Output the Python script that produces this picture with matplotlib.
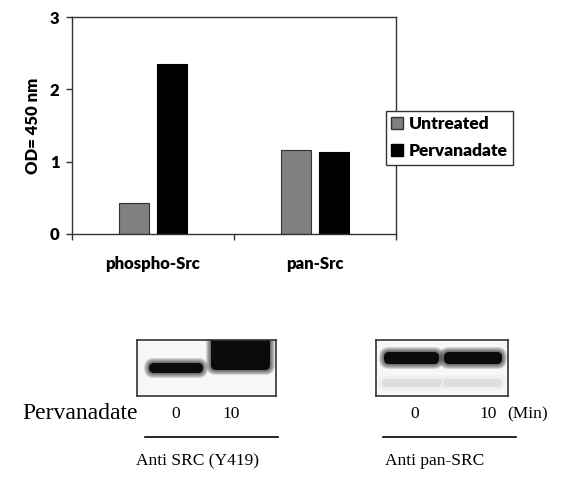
import matplotlib
matplotlib.use("Agg")
import matplotlib.pyplot as plt
import numpy as np
from matplotlib.patches import FancyBboxPatch, Patch

W, H = 568, 490

categories = ["phospho-Src", "pan-Src"]
untreated = [0.43, 1.16]
pervanadate = [2.35, 1.13]
y_ticks = [0, 1, 2, 3]

# blot bands: (x0, x1, y0, y1, darkness) in blot pixel units
blot_left = [(11, 67, 22, 34, 1.0), (73, 134, -6, 31, 1.0)]
blot_right = [(7, 64, 11, 25, 1.0), (67, 127, 11, 25, 1.0),
              (5, 66, 38, 48, 0.07), (67, 127, 38, 48, 0.06)]
lanes = ["0", "10"]


def fx(px):
    return px / W


def fy(py):
    return 1 - py / H


fig = plt.figure(figsize=(W / 100, H / 100), dpi=100)

sans = "Lato"
ax = fig.add_axes([fx(72), fy(234), fx(324), 217 / H])
x = np.arange(len(categories))
bw = 0.185
ax.bar(x - 0.12, untreated, bw, color="#808080", edgecolor="#333333", linewidth=0.8, label="Untreated")
ax.bar(x + 0.12, pervanadate, bw, color="black", edgecolor="black", linewidth=0.8, label="Pervanadate")
ax.set_xlim(-0.5, 1.5)
ax.set_ylim(0, 3)
ax.set_yticks(y_ticks)
ax.set_yticklabels([str(t) for t in y_ticks], fontfamily=sans, fontweight="heavy", fontsize=12)
ax.set_xticks([-0.5, 0.5, 1.5])
ax.set_xticklabels([])
ax.tick_params(axis="both", direction="out", length=4, width=1, color="#333333", pad=5)
for i, c in enumerate(categories):
    ax.text(i, -0.42, c, ha="center", va="center", fontfamily=sans, fontweight="heavy", fontsize=12)
for s in ax.spines.values():
    s.set_color("#333333")
    s.set_linewidth(1)
ax.set_ylabel("OD= 450 nm", fontfamily=sans, fontweight="heavy", fontsize=12, labelpad=6)

handles = [Patch(facecolor="#808080", edgecolor="#333333"), Patch(facecolor="black", edgecolor="black")]
leg = fig.legend(handles, ["Untreated", "Pervanadate"], loc="upper left",
                 bbox_to_anchor=(fx(386), fy(111)), borderaxespad=0, fancybox=False,
                 edgecolor="#333333", framealpha=1, handlelength=0.7, handleheight=0.7,
                 handletextpad=0.3, borderpad=0.3, labelspacing=0.65,
                 prop={"family": sans, "weight": "heavy", "size": 12.5})
leg.get_frame().set_linewidth(1)


def draw_blot(x0, y0, w, h, bands):
    b = fig.add_axes([fx(x0), fy(y0 + h), fx(w), h / H])
    b.set_xlim(0, w)
    b.set_ylim(h, 0)
    b.set_xticks([])
    b.set_yticks([])
    b.set_facecolor("#f7f7f7")
    for s in b.spines.values():
        s.set_color("#333333")
        s.set_linewidth(1.2)
    for bx0, bx1, by0, by1, d in bands:
        # soft halo to mimic film blur
        for k in [5, 4, 3, 2, 1, 0]:
            a = 0.9 if k == 0 else 0.14
            p = FancyBboxPatch((bx0 + 1 - k, by0 + 1 - k), bx1 - bx0 - 2 + 2 * k, by1 - by0 - 2 + 2 * k,
                               boxstyle="round,pad=0,rounding_size=%.1f" % min(5 + k, (by1 - by0) / 2 + k - 1),
                               facecolor="black", edgecolor="none", alpha=a * d, clip_on=True)
            b.add_patch(p)
    return b


draw_blot(137, 340, 139, 56, blot_left)
draw_blot(376, 340, 132, 56, blot_right)

serif = "Liberation Serif"
fig.text(fx(22), fy(413), "Pervanadate", fontfamily=serif, fontsize=17, va="center", ha="left")
for xp, t in zip([176, 231], lanes):
    fig.text(fx(xp), fy(414), t, fontfamily=serif, fontsize=12.5, va="center", ha="center")
for xp, t in zip([415, 488], lanes):
    fig.text(fx(xp), fy(414), t, fontfamily=serif, fontsize=12.5, va="center", ha="center")
fig.text(fx(528), fy(414), "(Min)", fontfamily=serif, fontsize=12.5, va="center", ha="center")

fig.add_artist(plt.Line2D([fx(145), fx(278)], [fy(437), fy(437)], color="black", linewidth=1.2))
fig.add_artist(plt.Line2D([fx(383), fx(516)], [fy(437), fy(437)], color="black", linewidth=1.2))
fig.text(fx(197), fy(461), "Anti SRC (Y419)", fontfamily=serif, fontsize=12.5, va="center", ha="center")
fig.text(fx(435), fy(461), "Anti pan-SRC", fontfamily=serif, fontsize=12.5, va="center", ha="center")

fig.savefig("out.png", dpi=100)
